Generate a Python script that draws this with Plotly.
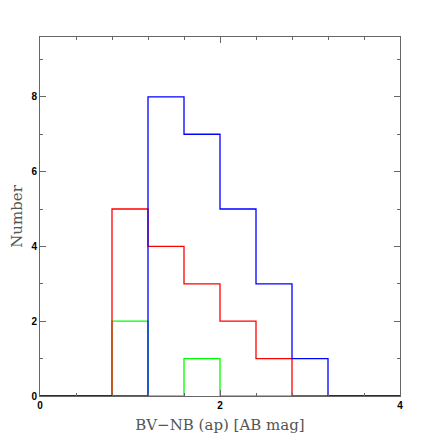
import plotly.graph_objects as go

# histogram bin edges (BV-NB colour, AB mag) and counts per sample
bin_edges = [0.0, 0.4, 0.8, 1.2, 1.6, 2.0, 2.4, 2.8, 3.2, 3.6, 4.0]
counts_green = [0, 0, 2, 0, 1, 0, 0, 0, 0, 0]
counts_red = [0, 0, 5, 4, 3, 2, 1, 0, 0, 0]
counts_blue = [0, 0, 0, 8, 7, 5, 3, 1, 0, 0]

x_ticks = [0, 2, 4]
y_ticks = [0, 2, 4, 6, 8]


def step_trace(counts, color, name):
    # repeat last count so the final bin gets its full width with hv steps
    return go.Scatter(
        x=bin_edges, y=counts + [counts[-1]],
        mode="lines", line_shape="hv",
        line=dict(color=color, width=1.3),
        name=name, hoverinfo="skip",
    )


fig = go.Figure()
fig.add_trace(step_trace(counts_green, "#00FF00", "green"))
fig.add_trace(step_trace(counts_red, "#FF0000", "red"))
fig.add_trace(step_trace(counts_blue, "#0000FF", "blue"))

axis_common = dict(
    showgrid=False, zeroline=False, automargin=False,
    showline=True, linecolor="#666666", linewidth=1, mirror="allticks",
    ticks="inside", ticklen=6, tickcolor="#666666", tickwidth=1,
    tickfont=dict(family="Liberation Sans, Arial", size=10, color="black", weight="bold"),
)
title_font = dict(family="DejaVu Serif, Liberation Serif", size=15, color="#555555")

# page body has an 8px margin, so the figure is a bit smaller than the window
fig.update_layout(
    width=428, height=428,
    margin=dict(l=32, r=36, t=29, b=40),
    plot_bgcolor="white", paper_bgcolor="white",
    showlegend=False,
    xaxis=dict(
        range=[0, 4], tickvals=x_ticks, ticktext=[str(v) for v in x_ticks],
        minor=dict(dtick=0.4, ticks="inside", ticklen=3, tickcolor="#666666"),
        title=dict(text="BV\u2212NB (ap) [AB mag]", standoff=9, font=title_font),
        **axis_common,
    ),
    yaxis=dict(
        range=[0, 9.6], tickvals=y_ticks, ticktext=[str(v) for v in y_ticks],
        minor=dict(dtick=1, ticks="inside", ticklen=3, tickcolor="#666666"),
        title=dict(text="Number", standoff=5, font=title_font),
        **axis_common,
    ),
)

fig.write_html("out.html")
